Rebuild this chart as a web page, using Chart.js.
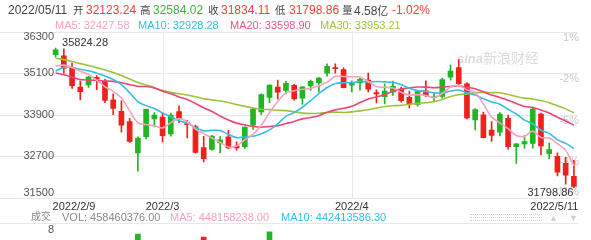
<!DOCTYPE html>
<html><head><meta charset="utf-8">
<script src="https://cdn.jsdelivr.net/npm/chart.js@4.4.1/dist/chart.umd.min.js"></script>
<style>
html,body{margin:0;padding:0;width:591px;height:240px;overflow:hidden;background:#fff;font-family:"Liberation Sans",Arial,sans-serif;}
#wrap{position:relative;width:591px;height:240px;overflow:hidden;}
canvas{position:absolute;left:0;}
#main{top:0;}
#vol{top:223px;}
.t{position:absolute;white-space:nowrap;line-height:14px;z-index:5;}
.l1{top:3px;font-size:12px;}
.l2{top:18px;font-size:11px;}
.l3{top:210px;font-size:11px;}
.cn{font-family:"Noto Sans CJK SC",sans-serif;}
.l1.cn{font-size:10.5px;top:3px;}
.dk{color:#444;} .rd{color:#f0413b;} .gn{color:#3cb33c;}
.m5{color:#f5a3bb;} .m10{color:#39bde0;} .m20{color:#ec5482;} .m30{color:#9fc242;}
.gy{color:#8a8a8a;}
#dots{position:absolute;left:470px;top:214px;width:72px;height:5px;border-top:1px dotted #cfcfcf;border-bottom:1px dotted #cfcfcf;z-index:5;}
#dots:after{content:"";position:absolute;left:0;right:0;top:2px;border-top:1px dotted #cfcfcf;}
</style></head>
<body><div id="wrap">
<canvas id="main" width="591" height="240"></canvas>
<canvas id="vol" width="591" height="65"></canvas>

<div class="t l1 dk" style="left:8px">2022/05/11</div>
<div class="t l1 dk cn" style="left:73px">开</div>
<div class="t l1 rd" style="left:86px">32123.24</div>
<div class="t l1 dk cn" style="left:140px">高</div>
<div class="t l1 gn" style="left:153px">32584.02</div>
<div class="t l1 dk cn" style="left:208px">收</div>
<div class="t l1 rd" style="left:221px">31834.11</div>
<div class="t l1 dk cn" style="left:275px">低</div>
<div class="t l1 rd" style="left:289px">31798.86</div>
<div class="t l1 dk cn" style="left:342px">量</div>
<div class="t l1 dk" style="left:354px">4.58<span class="cn" style="font-size:11px">亿</span></div>
<div class="t l1 rd" style="left:392px">-1.02%</div>

<div class="t l2 m5" style="left:55px">MA5: 32427.58</div>
<div class="t l2 m10" style="left:138px">MA10: 32928.28</div>
<div class="t l2 m20" style="left:230px">MA20: 33598.90</div>
<div class="t l2 m30" style="left:320px">MA30: 33953.21</div>

<div class="t l3 gy cn" style="left:31px;font-size:10px;top:209px">成交</div>
<div class="t l3 gy" style="left:62px">VOL: 458460376.00</div>
<div class="t l3 m5" style="left:170px">MA5: 448158238.00</div>
<div class="t l3 m10" style="left:281px">MA10: 442413586.30</div>
<div id="dots"></div>
<div class="t" style="left:549px;top:211px;font-size:9px;color:#d0d0d0">▲</div>
<div class="t" style="left:569px;top:211px;font-size:9px;color:#d0d0d0">▼</div>
</div>
<script>
const dates = ['2022/2/9','2022/2/10','2022/2/11','2022/2/14','2022/2/15','2022/2/16','2022/2/17','2022/2/18','2022/2/22','2022/2/23','2022/2/24','2022/2/25','2022/2/28',
'2022/3/1','2022/3/2','2022/3/3','2022/3/4','2022/3/7','2022/3/8','2022/3/9','2022/3/10','2022/3/11','2022/3/14','2022/3/15','2022/3/16','2022/3/17','2022/3/18','2022/3/21','2022/3/22','2022/3/23','2022/3/24','2022/3/25','2022/3/28','2022/3/29','2022/3/30','2022/3/31',
'2022/4/1','2022/4/4','2022/4/5','2022/4/6','2022/4/7','2022/4/8','2022/4/11','2022/4/12','2022/4/13','2022/4/14','2022/4/18','2022/4/19','2022/4/20','2022/4/21','2022/4/22','2022/4/25','2022/4/26','2022/4/27','2022/4/28','2022/4/29',
'2022/5/2','2022/5/3','2022/5/4','2022/5/5','2022/5/6','2022/5/9','2022/5/10','2022/5/11'];

const open  = [35630,35600,35250,34700,34760,34980,34860,34330,34000,33700,32800,33270,33780,
33830,33350,33990,33680,33560,32950,32900,33090,33260,33000,32980,33600,33980,34400,34700,34600,34750,34380,34730,34820,35100,35260,35200,
34750,34820,34900,34540,34420,34560,34640,34400,34200,34590,34390,34430,34980,35260,34790,33750,33900,33460,33400,33800,
32980,33060,33070,33920,32780,32700,32500,32123.24];
const high  = [35824.28,35800,35390,34880,35010,35030,34920,34500,34300,33800,33260,34060,33960,
33950,33950,34160,33740,33600,33280,33310,33270,33450,33120,33550,34100,34500,34760,34900,34860,34780,34710,34900,34980,35370,35370,35250,
34880,34970,35100,34620,34790,34870,34700,34580,34600,34880,34530,34960,35330,35492,34830,34080,33980,33700,33960,33890,
33070,33300,34118,33950,33080,32800,32670,32584.02];
const low   = [35560,35100,34660,34330,34690,34620,34250,33900,33400,33100,32272,33200,33550,
33120,33280,33680,33230,32790,32540,32880,32800,32920,32880,32930,33480,33900,34250,34350,34500,34320,34200,34600,34560,35010,35100,34670,
34560,34610,34560,34240,34210,34460,34260,34100,34150,34420,34280,34380,34900,34760,33780,33460,33230,33130,33290,32910,
32500,32930,32940,32740,32630,32140,31900,31798.86];
const close = [35768,35242,34738,34566,34989,34934,34312,34079,33597,33132,33224,34059,33893,
33295,33891,33795,33615,32817,32633,33286,33174,32944,32945,33544,34063,34481,34755,34553,34807,34359,34708,34861,34956,35294,35229,34678,
34818,34922,34641,34497,34584,34721,34308,34220,34565,34451,34412,34911,35161,34793,33811,34049,33240,33302,33916,32977,
33062,33129,34061,32998,32899,32246,32161,31834.11];

const ma5  = [35305,35331,35260,35155,35061,34894,34708,34576,34382,34011,33669,33618,33581,33521,33672,33787,33698,33483,33350,33229,
33105,32971,32996,33179,33334,33595,33958,34279,34532,34591,34636,34658,34738,34836,35010,35004,34995,34988,34858,34711,
34692,34673,34550,34466,34480,34453,34391,34512,34700,34746,34618,34545,34211,33839,33664,33497,33299,33277,33429,33245,
33230,33067,32873,32427.58];
const ma10 = [35158,35266,35267,35210,35169,35099,35019,34918,34769,34536,34281,34163,34079,33951,33842,33728,33658,33532,33435,33451,
33446,33334,33240,33264,33282,33350,33464,33638,33855,33963,34116,34308,34509,34684,34800,34820,34826,34863,34847,34860,
34848,34834,34769,34662,34595,34573,34532,34531,34583,34613,34535,34468,34361,34270,34205,34057,33922,33744,33634,33455,
33363,33183,33075,32928.28];
const ma20 = [35105,35053,34984,34917,34898,34893,34873,34863,34825,34767,34719,34714,34673,34581,34505,34413,34339,34225,34102,33993,
33864,33749,33659,33608,33562,33539,33561,33585,33645,33707,33781,33821,33874,33974,34041,34085,34145,34251,34351,34411,
34482,34571,34639,34673,34698,34696,34679,34697,34715,34737,34692,34651,34565,34466,34400,34315,34227,34138,34109,34034,
33949,33826,33718,33598.90];
const ma30 = [35530,35489,35433,35374,35321,35259,35189,35117,35029,34931,34830,34756,34682,34595,34546,34504,34468,34419,34362,34328,
34295,34254,34195,34142,34097,34059,34047,34029,34020,33983,33948,33935,33942,33967,33975,33966,33983,34011,34046,34091,
34137,34159,34172,34203,34226,34248,34274,34344,34428,34479,34500,34537,34546,34538,34533,34483,34427,34379,34355,34309,
34249,34162,34069,33953.21];

const volume = [390000000,430000000,450000000,380000000,370000000,340000000,400000000,420000000,430000000,410000000,
665000000,470000000,500000000,450000000,440000000,380000000,410000000,460000000,628000000,420000000,
360000000,350000000,390000000,410000000,450000000,380000000,690000000,380000000,340000000,320000000,
300000000,290000000,300000000,350000000,310000000,420000000,330000000,290000000,320000000,350000000,
330000000,290000000,310000000,320000000,300000000,330000000,280000000,330000000,360000000,380000000,
440000000,400000000,420000000,430000000,420000000,470000000,410000000,400000000,483344673,520000000,
440000000,430000000,392330814,458460376];

const yTicks = [31500,32700,33900,35100,36300];
const pctTicks = ['-11%','-8%','-5%','-2%','1%'];
const dateTickIdx = [0,13,36,63];
const dateTickText = ['2022/2/9','2022/3','2022/4','2022/5/11'];
const monthLineIdx = [13,36];
const volTicks = [800000000];

const RED = '#f2201d', GREEN = '#22b422', GRID = '#e8e8e8';
const C5 = '#f7a3bc', C10 = '#35bde3', C20 = '#eb4579', C30 = '#9dc23d';
const FONT = '"Liberation Sans", Arial, sans-serif';
const candleColor = close.map((c,i)=> c >= open[i] ? GREEN : RED);

function line(ctx,x1,y1,x2,y2){ctx.beginPath();ctx.moveTo(x1,y1);ctx.lineTo(x2,y2);ctx.stroke();}

const decor = {
  id:'decor',
  beforeDatasetsDraw(chart){
    const {ctx, chartArea:a, scales:{x, y}} = chart;
    ctx.save();
    ctx.strokeStyle = GRID; ctx.lineWidth = 1;
    yTicks.forEach(v=>{const py = Math.round(y.getPixelForValue(v))+0.5; line(ctx,0,py,a.right,py);});
    monthLineIdx.forEach(i=>{const px = Math.round(x.getPixelForValue(i))+0.5; line(ctx,px,a.top,px,a.bottom);});
    ctx.fillStyle = '#dcdcdc'; ctx.textBaseline = 'middle'; ctx.textAlign = 'left';
    ctx.font = 'italic bold 13px ' + FONT; ctx.fillText('sina', 457, 59);
    ctx.font = '14px "Noto Sans CJK SC", sans-serif'; ctx.fillText('新浪财经', 483, 58);
    ctx.font = '11px ' + FONT; ctx.fillStyle = '#c8c8c8'; ctx.textAlign = 'right'; ctx.textBaseline = 'top';
    yTicks.forEach((v,k)=>{ let py = y.getPixelForValue(v); py = Math.min(py + 0.5, a.bottom - 12); ctx.fillText(pctTicks[k], 579, py); });
    ctx.restore();
  },
  afterDraw(chart){
    const {ctx, chartArea:a, scales:{x, y}} = chart;
    ctx.save();
    ctx.font = '11px ' + FONT; ctx.fillStyle = '#555'; ctx.textAlign = 'right'; ctx.textBaseline = 'middle';
    yTicks.forEach(v=>{ let py = y.getPixelForValue(v); py = Math.max(a.top + 5.5, Math.min(a.bottom - 5, py)); ctx.fillText(String(v), 54, py); });
    ctx.fillStyle = '#333';
    dateTickIdx.forEach((i,k)=>{
      const px = x.getPixelForValue(i);
      if (k === 0) { ctx.textAlign = 'left'; ctx.fillText(dateTickText[k], px - 3, 207); }
      else if (k === dateTickIdx.length - 1) { ctx.textAlign = 'right'; ctx.fillText(dateTickText[k], px + 4.5, 207); }
      else { ctx.textAlign = 'center'; ctx.fillText(dateTickText[k], px, 207); }
    });
    const hv = Math.max(...high), hi = high.indexOf(hv);
    const lv = Math.min(...low), li = low.indexOf(lv);
    ctx.textAlign = 'left';
    ctx.fillText(hv.toFixed(2), x.getPixelForValue(hi) + 6.5, y.getPixelForValue(hv) - 5);
    ctx.textAlign = 'right';
    ctx.fillText(lv.toFixed(2), x.getPixelForValue(li) - 0.5, y.getPixelForValue(lv) + 5.5);
    ctx.restore();
  }
};

const maDs = (label, data, color) => ({type:'line', label, data, borderColor:color, borderWidth:1.6, pointRadius:0, tension:0.3, fill:false, order:0});

new Chart(document.getElementById('main'), {
  type:'bar',
  data:{
    labels: dates,
    datasets:[
      maDs('MA5', ma5, C5), maDs('MA10', ma10, C10), maDs('MA20', ma20, C20), maDs('MA30', ma30, C30),
      {type:'bar', label:'body', data: open.map((o,i)=>[o, close[i]]), backgroundColor: candleColor, barThickness:5, minBarLength:1, grouped:false, order:5},
      {type:'bar', label:'wick', data: low.map((l,i)=>[l, high[i]]), backgroundColor: candleColor, barThickness:1, grouped:false, order:6}
    ]
  },
  options:{
    responsive:false, animation:false, devicePixelRatio:1,
    layout:{padding:{left:51.5, right:13, top:31.5, bottom:42}},
    scales:{
      x:{type:'category', display:false, offset:true, grid:{display:false}},
      y:{type:'linear', display:false, min:31500, max:36300}
    },
    plugins:{legend:{display:false}, tooltip:{enabled:false}}
  },
  plugins:[decor]
});

const volDecor = {
  id:'volDecor',
  beforeDatasetsDraw(chart){
    const {ctx, chartArea:a, scales:{y}} = chart;
    ctx.save();
    ctx.strokeStyle = GRID; ctx.lineWidth = 1;
    volTicks.forEach(v=>{ const py = Math.round(y.getPixelForValue(v)) + 0.5; line(ctx,0,py,a.right,py); });
    ctx.restore();
  },
  afterDraw(chart){
    const {ctx, scales:{y}} = chart;
    ctx.save();
    ctx.font = '11px ' + FONT; ctx.fillStyle = '#555'; ctx.textAlign = 'right'; ctx.textBaseline = 'middle';
    volTicks.forEach(v=>{ ctx.fillText(String(v/1e8), 54, y.getPixelForValue(v) + 7); });
    ctx.restore();
  }
};

new Chart(document.getElementById('vol'), {
  type:'bar',
  data:{ labels: dates, datasets:[{label:'VOL', data: volume, backgroundColor: candleColor, barThickness:5}] },
  options:{
    responsive:false, animation:false, devicePixelRatio:1,
    layout:{padding:{left:51.5, right:13, top:0, bottom:0}},
    scales:{ x:{type:'category', display:false, offset:true}, y:{type:'linear', display:false, min:0, max:800000000} },
    plugins:{legend:{display:false}, tooltip:{enabled:false}}
  },
  plugins:[volDecor]
});
</script>
</body></html>
